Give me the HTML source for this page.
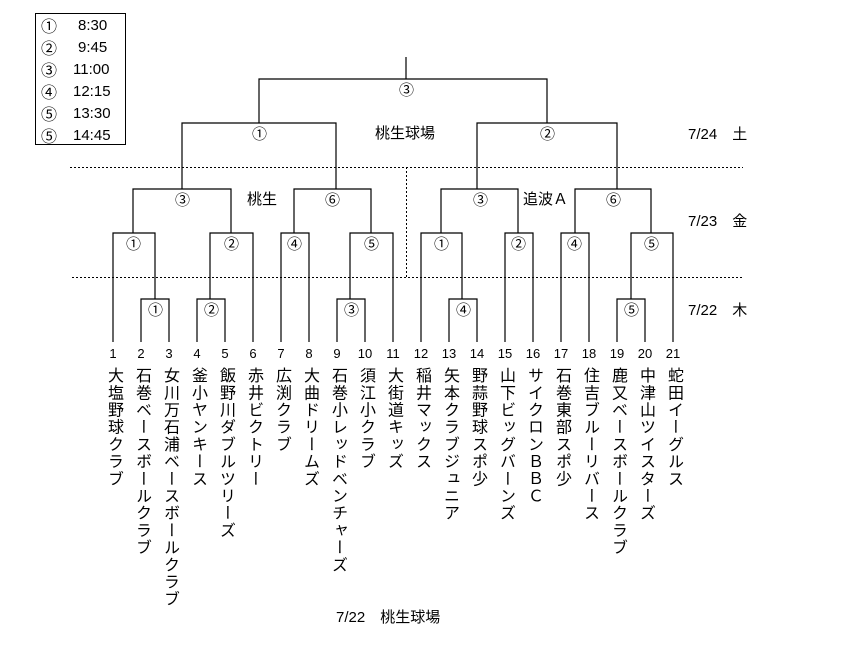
<!DOCTYPE html>
<html><head><meta charset="utf-8"><style>
body{margin:0;background:#fff;}
#c{position:relative;width:862px;height:649px;overflow:hidden;font-family:"Liberation Sans","Noto Sans CJK JP",sans-serif;color:#000;}
.t{position:absolute;font-size:14px;line-height:14px;white-space:nowrap;}
.o{font-family:"Noto Sans CJK JP",sans-serif;font-size:15px;line-height:15px;margin-top:-1px;}
.n{position:absolute;font-size:13px;line-height:13px;width:24px;text-align:center;top:347px;font-family:"Liberation Sans",sans-serif;}
.v{position:absolute;top:367px;width:20px;font-size:16px;line-height:20px;writing-mode:vertical-rl;letter-spacing:1.2px;}
.lg{position:absolute;left:35px;top:13px;width:89px;height:130px;border:1px solid #000;}
.lg div{position:absolute;font-size:15px;line-height:15px;}
.lg .c{font-family:"Noto Sans CJK JP",sans-serif;font-size:16px;line-height:16px;}
</style></head><body><div id="c">
<svg width="862" height="649" style="position:absolute;left:0;top:0" stroke="#000" stroke-width="1.2" fill="none">
<line x1="406" y1="57" x2="406" y2="79"/>
<polyline points="259,123 259,79 547,79 547,123"/>
<polyline points="182,189 182,123 336,123 336,189"/>
<polyline points="477,189 477,123 617,123 617,189"/>
<polyline points="133,233 133,189 231,189 231,233"/>
<polyline points="294,233 294,189 371,189 371,233"/>
<polyline points="441,233 441,189 518,189 518,233"/>
<polyline points="575,233 575,189 651,189 651,233"/>
<polyline points="113,342 113,233 155,233 155,299"/>
<polyline points="210,299 210,233 253,233 253,342"/>
<polyline points="281,342 281,233 309,233 309,342"/>
<polyline points="350,299 350,233 393,233 393,342"/>
<polyline points="421,342 421,233 462,233 462,299"/>
<polyline points="505,342 505,233 533,233 533,342"/>
<polyline points="561,342 561,233 589,233 589,342"/>
<polyline points="631,299 631,233 673,233 673,342"/>
<polyline points="141,342 141,299 169,299 169,342"/>
<polyline points="197,342 197,299 225,299 225,342"/>
<polyline points="337,342 337,299 365,299 365,342"/>
<polyline points="449,342 449,299 477,299 477,342"/>
<polyline points="617,342 617,299 645,299 645,342"/>
<g stroke-dasharray="2,2" stroke-width="1">
<line x1="70" y1="167.5" x2="743" y2="167.5"/>
<line x1="72" y1="277.5" x2="743" y2="277.5"/>
<line x1="406.5" y1="167" x2="406.5" y2="277"/>
</g>
</svg>
<div class="lg">
<div class="c" style="left:5px;top:3px">①</div><div style="left:42px;top:4px">8:30</div>
<div class="c" style="left:5px;top:25px">②</div><div style="left:42px;top:26px">9:45</div>
<div class="c" style="left:5px;top:47px">③</div><div style="left:37px;top:48px">11:00</div>
<div class="c" style="left:5px;top:69px">④</div><div style="left:37px;top:70px">12:15</div>
<div class="c" style="left:5px;top:91px">⑤</div><div style="left:37px;top:92px">13:30</div>
<div class="c" style="left:5px;top:113px">⑤</div><div style="left:37px;top:114px">14:45</div>
</div>
<div class="t o" style="left:399px;top:83px">③</div>
<div class="t o" style="left:252px;top:127px">①</div>
<div class="t o" style="left:540px;top:127px">②</div>
<div class="t o" style="left:175px;top:193px">③</div>
<div class="t o" style="left:325px;top:193px">⑥</div>
<div class="t o" style="left:473px;top:193px">③</div>
<div class="t o" style="left:606px;top:193px">⑥</div>
<div class="t o" style="left:126px;top:237px">①</div>
<div class="t o" style="left:224px;top:237px">②</div>
<div class="t o" style="left:287px;top:237px">④</div>
<div class="t o" style="left:364px;top:237px">⑤</div>
<div class="t o" style="left:434px;top:237px">①</div>
<div class="t o" style="left:511px;top:237px">②</div>
<div class="t o" style="left:567px;top:237px">④</div>
<div class="t o" style="left:644px;top:237px">⑤</div>
<div class="t o" style="left:148px;top:303px">①</div>
<div class="t o" style="left:204px;top:303px">②</div>
<div class="t o" style="left:344px;top:303px">③</div>
<div class="t o" style="left:456px;top:303px">④</div>
<div class="t o" style="left:624px;top:303px">⑤</div>
<div class="t" style="left:375px;top:127px;font-size:15px">桃生球場</div>
<div class="t" style="left:247px;top:193px;font-size:15px">桃生</div>
<div class="t" style="left:523px;top:193px;font-size:15px">追波Ａ</div>
<div class="t" style="left:688px;top:128px;font-size:15px">7/24　土</div>
<div class="t" style="left:688px;top:215px;font-size:15px">7/23　金</div>
<div class="t" style="left:688px;top:304px;font-size:15px">7/22　木</div>
<div class="t" style="left:336px;top:611px;font-size:15px">7/22　桃生球場</div>
<div class="n" style="left:101px">1</div><div class="n" style="left:129px">2</div><div class="n" style="left:157px">3</div><div class="n" style="left:185px">4</div><div class="n" style="left:213px">5</div><div class="n" style="left:241px">6</div><div class="n" style="left:269px">7</div><div class="n" style="left:297px">8</div><div class="n" style="left:325px">9</div><div class="n" style="left:353px">10</div><div class="n" style="left:381px">11</div><div class="n" style="left:409px">12</div><div class="n" style="left:437px">13</div><div class="n" style="left:465px">14</div><div class="n" style="left:493px">15</div><div class="n" style="left:521px">16</div><div class="n" style="left:549px">17</div><div class="n" style="left:577px">18</div><div class="n" style="left:605px">19</div><div class="n" style="left:633px">20</div><div class="n" style="left:661px">21</div>
<div class="v" style="left:103px">大塩野球クラブ</div>
<div class="v" style="left:131px">石巻ベースボールクラブ</div>
<div class="v" style="left:159px">女川万石浦ベースボールクラブ</div>
<div class="v" style="left:187px">釜小ヤンキース</div>
<div class="v" style="left:215px">飯野川ダブルツリーズ</div>
<div class="v" style="left:243px">赤井ビクトリー</div>
<div class="v" style="left:271px">広渕クラブ</div>
<div class="v" style="left:299px">大曲ドリームズ</div>
<div class="v" style="left:327px">石巻小レッドベンチャーズ</div>
<div class="v" style="left:355px">須江小クラブ</div>
<div class="v" style="left:383px">大街道キッズ</div>
<div class="v" style="left:411px">稲井マックス</div>
<div class="v" style="left:439px">矢本クラブジュニア</div>
<div class="v" style="left:467px">野蒜野球スポ少</div>
<div class="v" style="left:495px">山下ビッグバーンズ</div>
<div class="v" style="left:523px">サイクロンＢＢＣ</div>
<div class="v" style="left:551px">石巻東部スポ少</div>
<div class="v" style="left:579px">住吉ブルーリバース</div>
<div class="v" style="left:607px">鹿又ベースボールクラブ</div>
<div class="v" style="left:635px">中津山ツイスターズ</div>
<div class="v" style="left:663px">蛇田イーグルス</div>
</div></body></html>
